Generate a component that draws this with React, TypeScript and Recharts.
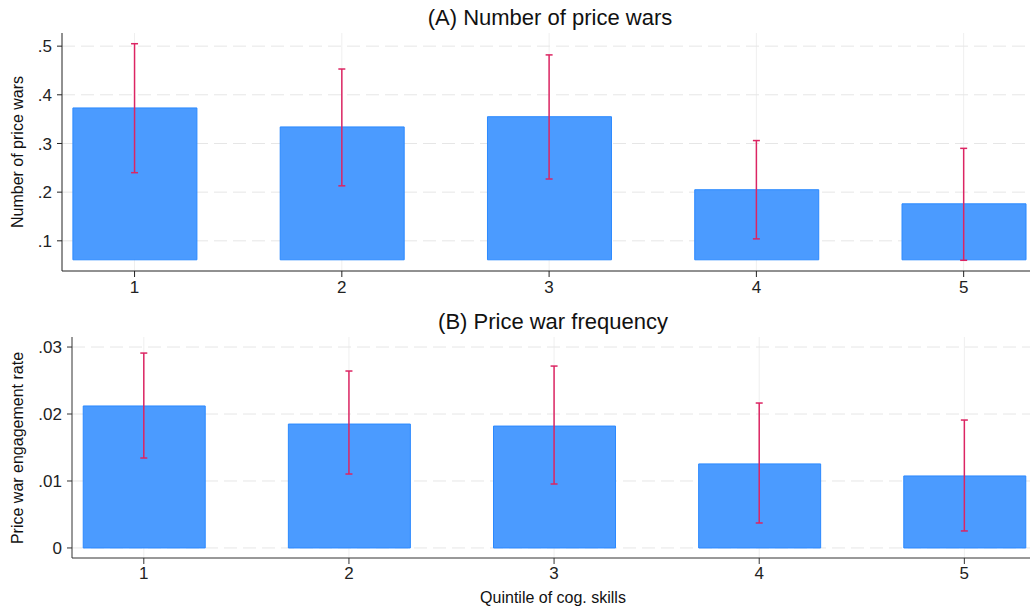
import React from 'react';
import { ComposedChart, Bar, Scatter, ErrorBar, XAxis, YAxis, CartesianGrid } from 'recharts';

const quintiles = [1, 2, 3, 4, 5];

// Panel A: Number of price wars
const warsMean = [0.373, 0.334, 0.355, 0.205, 0.176];
const warsLo = [0.240, 0.213, 0.227, 0.104, 0.060];
const warsHi = [0.505, 0.453, 0.482, 0.306, 0.290];
const warsBase = 0.061;
const warsTicks = [0.1, 0.2, 0.3, 0.4, 0.5];

// Panel B: Price war frequency
const rateMean = [0.0212, 0.0185, 0.0182, 0.01255, 0.01075];
const rateLo = [0.01343, 0.01104, 0.00955, 0.00373, 0.00254];
const rateHi = [0.0291, 0.02642, 0.02716, 0.02164, 0.0191];
const rateTicks = [0, 0.01, 0.02, 0.03];

const dataA = quintiles.map((q, i) => ({ q, mean: warsMean[i], lo: warsLo[i], hi: warsHi[i] }));
const dataB = quintiles.map((q, i) => ({ q, mean: rateMean[i], lo: rateLo[i], hi: rateHi[i] }));

const FONT = '"Liberation Sans", Arial, Helvetica, sans-serif';
const BAR_FILL = '#4B9BFF';
const BAR_STROKE = '#2B89FF';
const ERR = '#DC2563';

const fmtDot = (v: number) => {
  if (v === 0) return '0';
  const s = String(Number(v.toFixed(4)));
  return s.replace(/^0\./, '.');
};

const noShape = () => <g />;

export default function App() {
  return (
    <div style={{ position: 'absolute', left: 0, top: 0, width: 1030, height: 610, background: '#fff', fontFamily: FONT }}>
      <div style={{ position: 'absolute', left: 0, top: 0 }}>
        <ComposedChart width={1030} height={300} data={dataA} margin={{ top: 33, right: 0, left: 0, bottom: 0 }}>
          <CartesianGrid horizontal={false} vertical={true} syncWithTicks stroke="#efefef" strokeWidth={1} />
          <CartesianGrid horizontal={true} vertical={false} syncWithTicks stroke="#e6e6e6" strokeDasharray="13 6" strokeWidth={1} />
          <XAxis
            dataKey="q"
            type="number"
            domain={[0.65, 5.32]}
            ticks={quintiles}
            allowDataOverflow
            height={29}
            tickSize={6}
            tickMargin={4}
            stroke="#222"
            tick={{ fill: '#222', fontSize: 17, fontFamily: FONT }}
          />
          <YAxis
            type="number"
            domain={[0.038, 0.527]}
            ticks={warsTicks}
            allowDataOverflow
            width={62}
            tickSize={5}
            tickMargin={5}
            stroke="#222"
            tickFormatter={fmtDot}
            tick={{ fill: '#222', fontSize: 17, fontFamily: FONT }}
          />
          <Bar
            dataKey={(d: any) => [warsBase, d.mean]}
            barSize={124}
            fill={BAR_FILL}
            stroke={BAR_STROKE}
            strokeWidth={1}
            isAnimationActive={false}
          />
          <Scatter dataKey="lo" shape={noShape} isAnimationActive={false} legendType="none">
            <ErrorBar dataKey={(d: any) => [0, d.hi - d.lo]} direction="y" width={3.5} stroke={ERR} strokeWidth={1.5} />
          </Scatter>
        </ComposedChart>
      </div>
      <div style={{ position: 'absolute', left: 0, top: 300 }}>
        <ComposedChart width={1030} height={310} data={dataB} margin={{ top: 37, right: 0, left: 0, bottom: 0 }}>
          <CartesianGrid horizontal={false} vertical={true} syncWithTicks stroke="#efefef" strokeWidth={1} />
          <CartesianGrid horizontal={true} vertical={false} syncWithTicks stroke="#e6e6e6" strokeDasharray="13 6" strokeWidth={1} />
          <XAxis
            dataKey="q"
            type="number"
            domain={[0.65, 5.32]}
            ticks={quintiles}
            allowDataOverflow
            height={52}
            tickSize={6}
            tickMargin={3}
            stroke="#333"
            tick={{ fill: '#222', fontSize: 17, fontFamily: FONT }}
          />
          <YAxis
            type="number"
            domain={[-0.0015, 0.0315]}
            ticks={rateTicks}
            allowDataOverflow
            width={72}
            tickSize={5}
            tickMargin={5}
            stroke="#333"
            tickFormatter={fmtDot}
            tick={{ fill: '#222', fontSize: 17, fontFamily: FONT }}
          />
          <Bar
            dataKey="mean"
            barSize={122}
            fill={BAR_FILL}
            stroke={BAR_STROKE}
            strokeWidth={1}
            isAnimationActive={false}
          />
          <Scatter dataKey="lo" shape={noShape} isAnimationActive={false} legendType="none">
            <ErrorBar dataKey={(d: any) => [0, d.hi - d.lo]} direction="y" width={3.5} stroke={ERR} strokeWidth={1.5} />
          </Scatter>
        </ComposedChart>
      </div>
      <svg width={1030} height={610} style={{ position: 'absolute', left: 0, top: 0, pointerEvents: 'none' }}>
        <text x={550} y={25} textAnchor="middle" fontSize={22} fill="#111" fontFamily={FONT}>(A) Number of price wars</text>
        <text x={553} y={329} textAnchor="middle" fontSize={22} fill="#111" fontFamily={FONT}>(B) Price war frequency</text>
        <text x={23} y={152} textAnchor="middle" fontSize={16} fill="#111" fontFamily={FONT} transform="rotate(-90 23 152)">Number of price wars</text>
        <text x={23} y={448} textAnchor="middle" fontSize={16} fill="#111" fontFamily={FONT} transform="rotate(-90 23 448)">Price war engagement rate</text>
        <text x={553} y={603} textAnchor="middle" fontSize={16} fill="#111" fontFamily={FONT}>Quintile of cog. skills</text>
      </svg>
    </div>
  );
}
